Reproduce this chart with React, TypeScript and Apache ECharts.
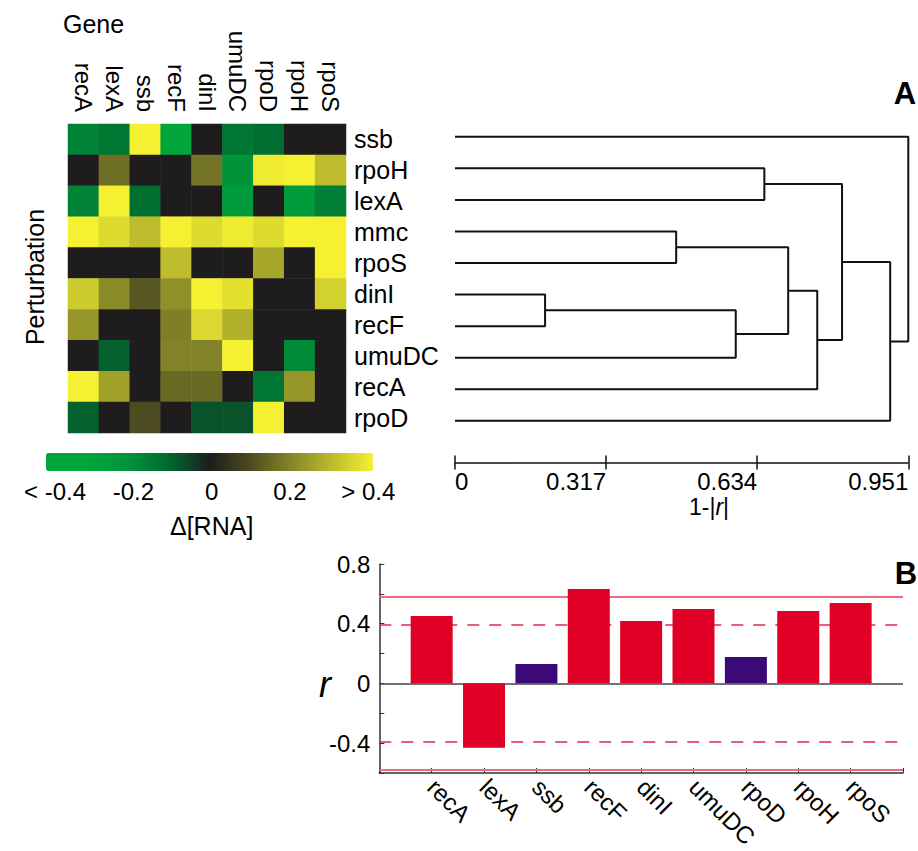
import React, { useEffect, useRef } from 'react';
import * as echarts from 'echarts';

// ---------- data ----------
const genes = ['recA', 'lexA', 'ssb', 'recF', 'dinI', 'umuDC', 'rpoD', 'rpoH', 'rpoS'];
const perturbations = ['ssb', 'rpoH', 'lexA', 'mmc', 'rpoS', 'dinI', 'recF', 'umuDC', 'recA', 'rpoD'];

// Δ[RNA] for each perturbation (row), columns follow `genes`
const dRNA_ssb = [-0.16, -0.13, 0.4, -0.35, 0, -0.13, -0.11, 0, 0];
const dRNA_rpoH = [0, 0.16, 0, 0, 0.17, -0.2, 0.39, 0.4, 0.3];
const dRNA_lexA = [-0.16, 0.4, -0.11, 0, 0, -0.24, 0, -0.24, -0.15];
const dRNA_mmc = [0.4, 0.36, 0.3, 0.4, 0.36, 0.39, 0.36, 0.4, 0.4];
const dRNA_rpoS = [0, 0, 0, 0.3, 0, 0, 0.26, 0, 0.4];
const dRNA_dinI = [0.33, 0.21, 0.12, 0.22, 0.4, 0.37, 0, 0, 0.34];
const dRNA_recF = [0.23, 0, 0, 0.19, 0.355, 0.28, 0, 0, 0];
const dRNA_umuDC = [0, -0.09, 0, 0.195, 0.195, 0.4, 0, -0.18, 0];
const dRNA_recA = [0.4, 0.25, 0, 0.15, 0.15, 0, -0.13, 0.23, 0];
const dRNA_rpoD = [-0.09, 0, 0.1, 0, -0.07, -0.07, 0.4, 0, 0];
const heatRows = [dRNA_ssb, dRNA_rpoH, dRNA_lexA, dRNA_mmc, dRNA_rpoS, dRNA_dinI, dRNA_recF, dRNA_umuDC, dRNA_recA, dRNA_rpoD];

// dendrogram merges (leaf indices 0..9 follow `perturbations`, new clusters 10..)
const mergeA = [5, 3, 10, 1, 11, 14, 13, 16, 0];
const mergeB = [6, 4, 7, 2, 12, 8, 15, 9, 17];
const mergeHeight = [0.189, 0.464, 0.589, 0.649, 0.699, 0.76, 0.812, 0.913, 0.951];

// colour bar
const colorbarTicks = [-0.4, -0.2, 0, 0.2, 0.4];
const colorbarLabels = ['< -0.4', '-0.2', '0', '0.2', '> 0.4'];
const colorStops = ['#00a63c', '#00a63c', '#00933a', '#006a30', '#1e1c1d', '#4c4c20', '#858528', '#bcbc2c', '#f5f032'];

// panel B: correlation r per gene (order follows `genes`)
const correlation = [0.451, -0.432, 0.129, 0.632, 0.418, 0.498, 0.176, 0.485, 0.539];
const significantLevel = 0.58;
const weakLevel = 0.39;

// ---------- option ----------
const FONT = 'Liberation Sans, Arial, Helvetica, sans-serif';

function buildOption() {
  const heatData: any[] = [];
  heatRows.forEach((row, r) => row.forEach((v, c) => heatData.push([c, r, v])));

  const nodeY: number[] = perturbations.map((_, i) => i);
  const nodeH: number[] = perturbations.map(() => 0);
  const dendroSeries: any[] = [];
  mergeA.forEach((a, k) => {
    const b = mergeB[k];
    const h = mergeHeight[k];
    dendroSeries.push({
      type: 'line',
      xAxisIndex: 1,
      yAxisIndex: 1,
      data: [[nodeH[a], nodeY[a]], [h, nodeY[a]], [h, nodeY[b]], [nodeH[b], nodeY[b]]],
      symbol: 'none',
      clip: false,
      silent: true,
      lineStyle: { color: '#111', width: 2 },
    });
    nodeY.push((nodeY[a] + nodeY[b]) / 2);
    nodeH.push(h);
  });

  const distTickStyle = { color: '#111', width: 1.5 };

  return {
    animation: false,
    textStyle: { fontFamily: FONT, color: '#000' },
    grid: [
      { left: 68, top: 124, width: 278, height: 309 },
      { left: 455, top: 121, width: 453.3, height: 315.6 },
      { left: 55, top: 453, width: 313.3, height: 18 },
      { left: 379.3, top: 564, width: 523.7, height: 209.3 },
    ],
    visualMap: {
      type: 'continuous',
      min: -0.4,
      max: 0.4,
      seriesIndex: 0,
      orient: 'horizontal',
      left: 46,
      top: 453,
      itemWidth: 18,
      itemHeight: 327,
      padding: 0,
      calculable: false,
      hoverLink: false,
      inRange: { color: colorStops },
    },
    xAxis: [
      {
        type: 'category',
        gridIndex: 0,
        data: genes,
        position: 'top',
        axisLine: { show: false },
        axisTick: { show: false },
        splitLine: { show: false },
        axisLabel: { rotate: 90, margin: 12, fontSize: 24, color: '#000', interval: 0, fontFamily: FONT },
      },
      {
        type: 'value',
        gridIndex: 1,
        position: 'bottom',
        offset: 26,
        min: 0,
        max: 0.951,
        interval: 0.317,
        axisLine: { show: true, onZero: false, lineStyle: distTickStyle },
        axisTick: { show: true, length: 7, lineStyle: distTickStyle },
        splitLine: { show: false },
        axisLabel: {
          align: 'right',
          margin: 7,
          fontSize: 24,
          color: '#000',
          fontFamily: FONT,
          formatter: (v: number) => (v < 1e-9 ? '' : v.toFixed(3)),
        },
      },
      {
        type: 'value',
        gridIndex: 1,
        position: 'bottom',
        offset: 26,
        min: 0,
        max: 0.951,
        interval: 0.317,
        axisLine: { show: false, onZero: false },
        axisTick: { show: true, inside: true, length: 7, lineStyle: distTickStyle },
        splitLine: { show: false },
        axisLabel: {
          align: 'left',
          margin: 7,
          fontSize: 24,
          color: '#000',
          fontFamily: FONT,
          formatter: (v: number) => (v < 1e-9 ? '0' : ''),
        },
      },
      {
        type: 'value',
        gridIndex: 2,
        position: 'bottom',
        min: -0.4,
        max: 0.4,
        interval: 0.2,
        axisLine: { show: false, onZero: false },
        axisTick: { show: false },
        splitLine: { show: false },
        axisLabel: {
          margin: 8,
          fontSize: 24,
          color: '#000',
          fontFamily: FONT,
          formatter: (v: number) => {
            let best = 0;
            colorbarTicks.forEach((t, i) => {
              if (Math.abs(t - v) < Math.abs(colorbarTicks[best] - v)) best = i;
            });
            return colorbarLabels[best];
          },
        },
        name: 'Δ[RNA]',
        nameLocation: 'middle',
        nameGap: 42,
        nameTextStyle: { fontSize: 25, color: '#000', fontFamily: FONT },
      },
      {
        type: 'value',
        gridIndex: 3,
        position: 'bottom',
        min: -1,
        max: 9,
        interval: 1,
        axisLine: { show: true, onZero: false, lineStyle: { color: '#333', width: 1.5 } },
        axisTick: { show: true, inside: true, length: 5, lineStyle: { color: '#333' } },
        splitLine: { show: false },
        axisLabel: {
          rotate: -45,
          margin: 10,
          fontSize: 24,
          color: '#000',
          fontFamily: FONT,
          formatter: (v: number) => genes[Math.round(v)] ?? '',
        },
      },
    ],
    yAxis: [
      {
        type: 'category',
        gridIndex: 0,
        data: perturbations,
        inverse: true,
        position: 'right',
        axisLine: { show: false },
        axisTick: { show: false },
        splitLine: { show: false },
        axisLabel: { margin: 8, fontSize: 25, color: '#000', interval: 0, fontFamily: FONT },
      },
      {
        type: 'value',
        gridIndex: 1,
        min: -0.5,
        max: 9.5,
        inverse: true,
        show: false,
        axisLine: { show: false, onZero: false },
        axisTick: { show: false },
        axisLabel: { show: false },
        splitLine: { show: false },
      },
      {
        type: 'value',
        gridIndex: 2,
        min: 0,
        max: 1,
        show: false,
        axisLine: { show: false, onZero: false },
        splitLine: { show: false },
      },
      {
        type: 'value',
        gridIndex: 3,
        position: 'left',
        min: -0.6,
        max: 0.8,
        interval: 0.2,
        axisLine: { show: true, onZero: false, lineStyle: { color: '#333', width: 1.5 } },
        axisTick: { show: true, inside: true, length: 5, lineStyle: { color: '#333' } },
        splitLine: { show: false },
        axisLabel: {
          margin: 9,
          fontSize: 24,
          color: '#000',
          fontFamily: FONT,
          formatter: (v: number) => {
            const t = Math.round(v * 10);
            return t % 4 === 0 ? String(t / 10) : '';
          },
        },
      },
    ],
    series: [
      {
        type: 'heatmap',
        xAxisIndex: 0,
        yAxisIndex: 0,
        data: heatData,
        silent: true,
        itemStyle: { borderWidth: 0 },
        emphasis: { disabled: true },
      },
      ...dendroSeries,
      {
        type: 'bar',
        xAxisIndex: 4,
        yAxisIndex: 3,
        barWidth: 42,
        z: 3,
        silent: true,
        data: correlation.map((r, i) => ({
          value: [i, r],
          itemStyle: { color: Math.abs(r) < weakLevel ? '#3c0a78' : '#e00025' },
        })),
        markLine: {
          z: 2,
          silent: true,
          symbol: 'none',
          label: { show: false },
          data: [
            { yAxis: significantLevel, lineStyle: { color: '#f06a7d', width: 2, type: 'solid' } },
            { yAxis: -significantLevel, lineStyle: { color: '#f06a7d', width: 2, type: 'solid' } },
            { yAxis: weakLevel, lineStyle: { color: '#e6284a', width: 1.5, type: [12, 10] } },
            { yAxis: -weakLevel, lineStyle: { color: '#e6284a', width: 1.5, type: [12, 10] } },
            { yAxis: 0, lineStyle: { color: '#444', width: 1.5, type: 'solid' } },
          ],
        },
      },
    ],
    graphic: [
      {
        type: 'text',
        x: 63,
        y: 24,
        style: { text: 'Gene', fontSize: 25, fontFamily: FONT, fill: '#000', align: 'left', verticalAlign: 'middle' },
      },
      {
        type: 'text',
        x: 35,
        y: 277,
        rotation: Math.PI / 2,
        style: { text: 'Perturbation', fontSize: 25, fontFamily: FONT, fill: '#000', align: 'center', verticalAlign: 'middle' },
      },
      {
        type: 'text',
        x: 905,
        y: 93,
        style: { text: 'A', fontSize: 31, fontWeight: 'bold', fontFamily: FONT, fill: '#000', align: 'center', verticalAlign: 'middle' },
      },
      {
        type: 'text',
        x: 906,
        y: 573,
        style: { text: 'B', fontSize: 31, fontWeight: 'bold', fontFamily: FONT, fill: '#000', align: 'center', verticalAlign: 'middle' },
      },
      {
        type: 'text',
        x: 709,
        y: 507,
        style: {
          text: '1-|{i|r}|',
          rich: { i: { fontStyle: 'italic', fontSize: 23, fontFamily: FONT, fill: '#000' } },
          fontSize: 23,
          fontFamily: FONT,
          fill: '#000',
          align: 'center',
          verticalAlign: 'middle',
        },
      },
      {
        type: 'text',
        x: 325,
        y: 684,
        style: { text: 'r', fontSize: 36, fontStyle: 'italic', fontFamily: FONT, fill: '#000', align: 'center', verticalAlign: 'middle' },
      },
    ],
  };
}

export default function App() {
  const ref = useRef<HTMLDivElement>(null);
  useEffect(() => {
    if (!ref.current) return;
    const chart = echarts.init(ref.current, null, { renderer: 'svg' });
    chart.setOption(buildOption() as any);
    return () => chart.dispose();
  }, []);
  return <div ref={ref} style={{ position: 'fixed', left: 0, top: 0, width: 918, height: 851, background: '#fff' }} />;
}
